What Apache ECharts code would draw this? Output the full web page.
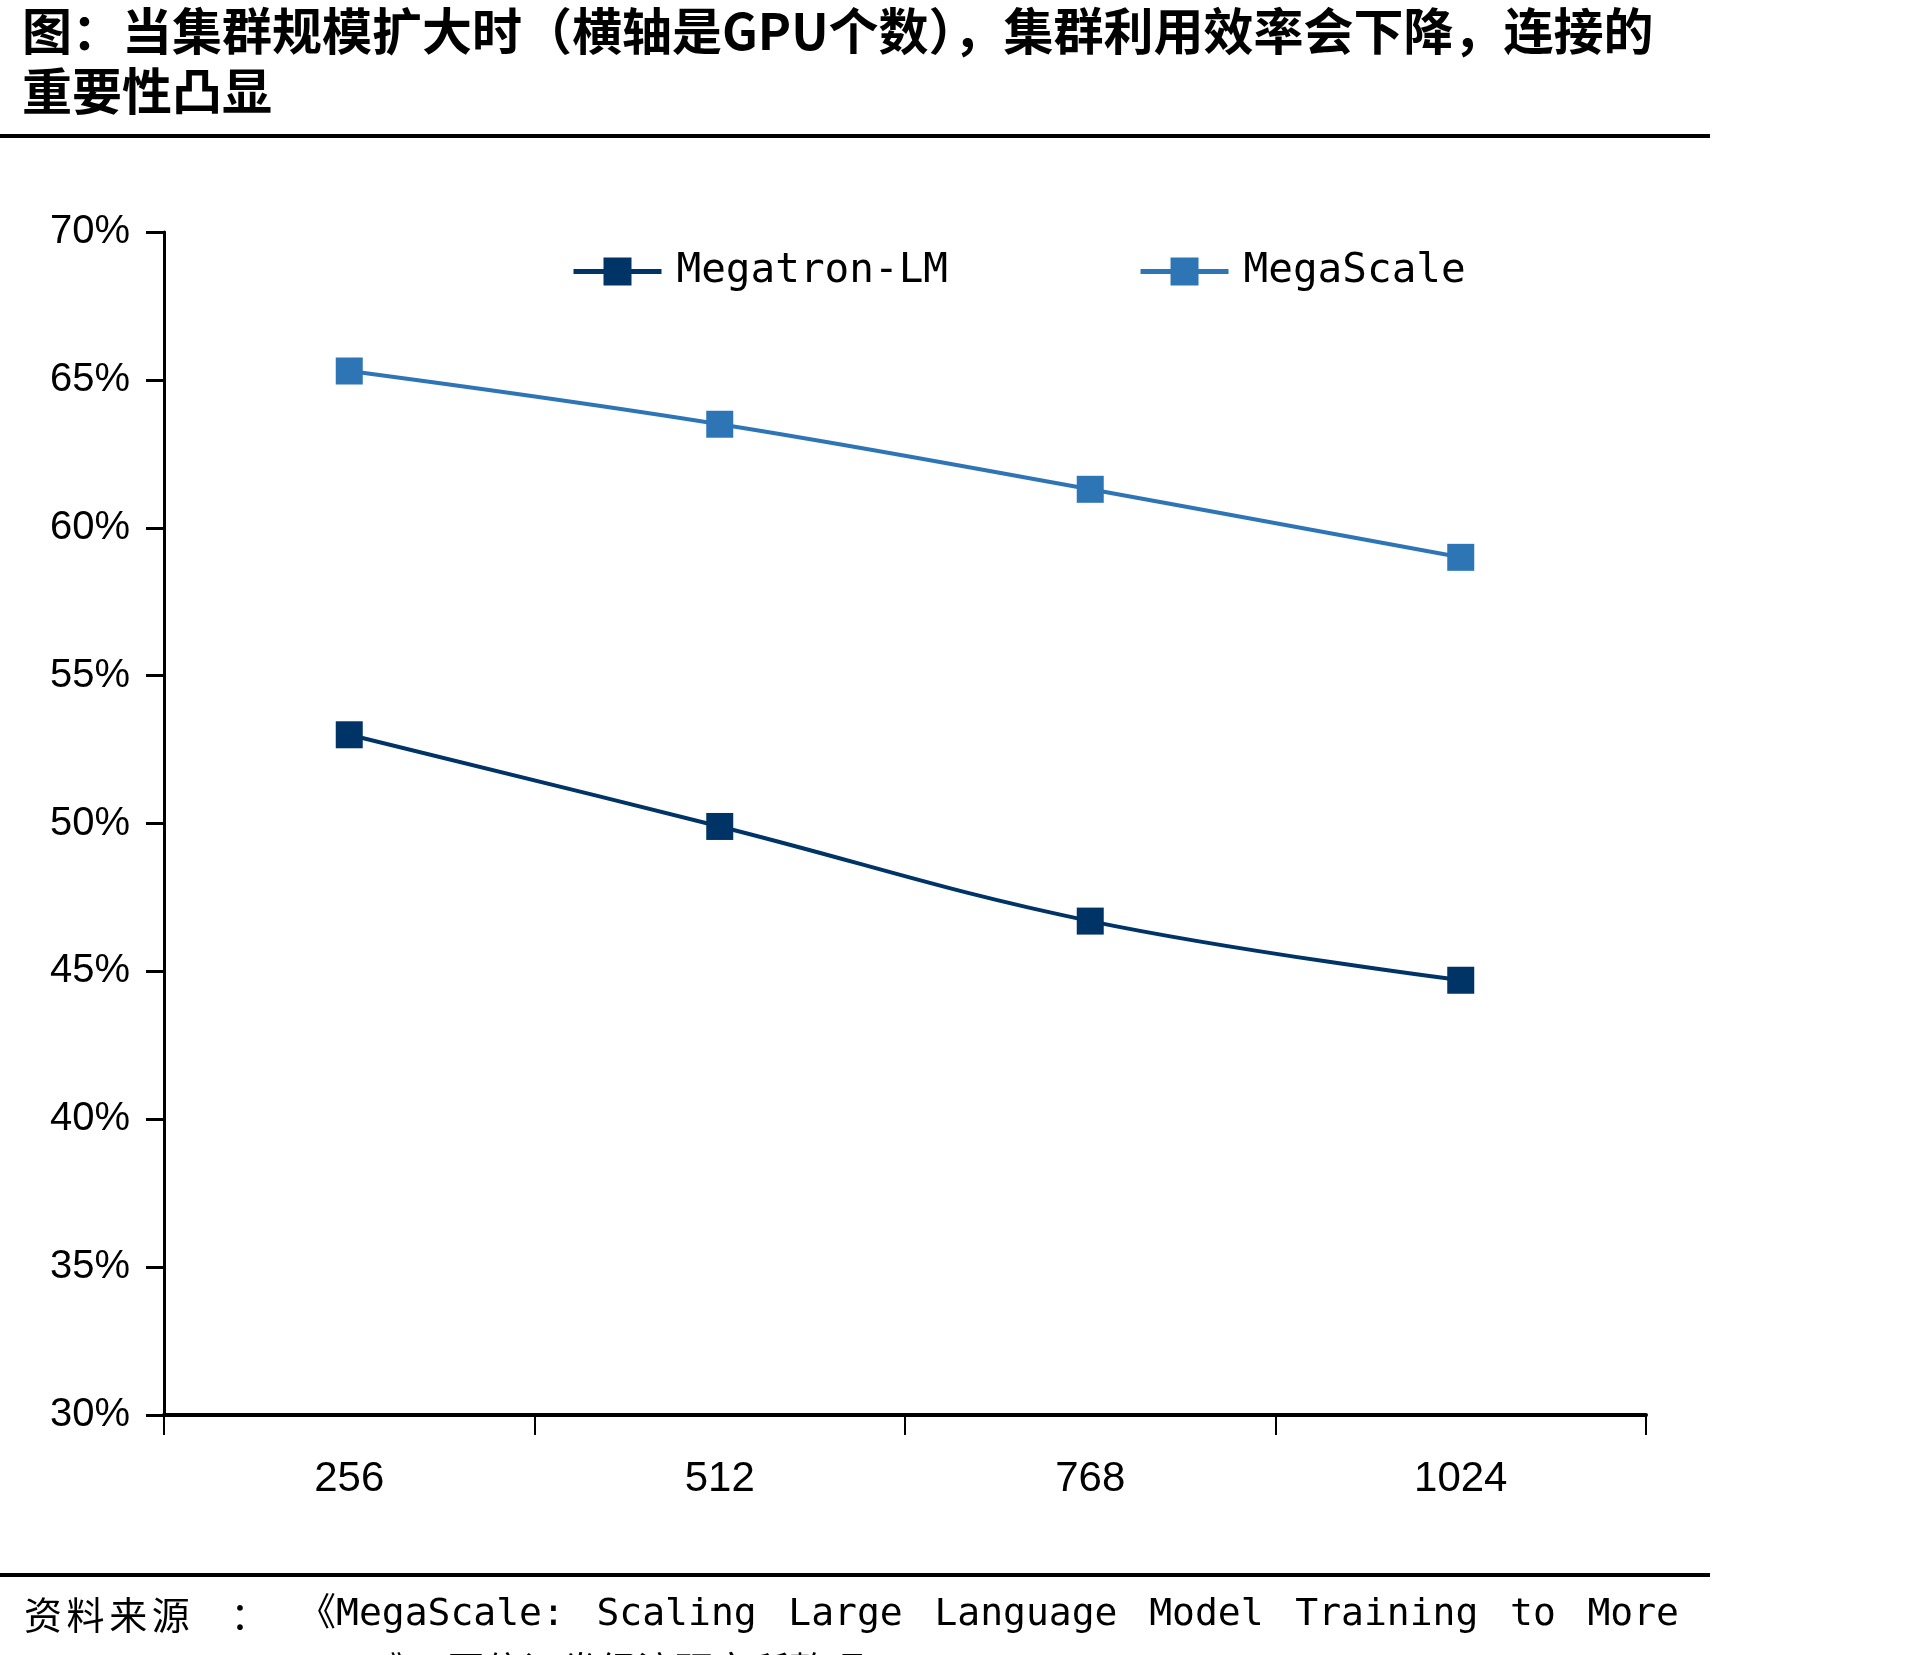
<!DOCTYPE html>
<html>
<head>
<meta charset="utf-8">
<script src="https://cdn.jsdelivr.net/npm/echarts@6/dist/echarts.min.js"></script>
<style>
html,body{margin:0;padding:0;background:#fff;}
#chart{width:1908px;height:1655px;}
</style>
</head>
<body>
<div id="chart"></div>
<script>
const titleLine1 = '图：当集群规模扩大时（横轴是GPU个数），集群利用效率会下降，连接的';
const titleLine2 = '重要性凸显';
const sourceLead = ['资', '料', '来', '源', '：'];
const sourceWords1 = ['《MegaScale:', 'Scaling', 'Large', 'Language', 'Model', 'Training', 'to', 'More'];
const sourceLine2 = 'Than 10,000 GPUs》，国信证券经济研究所整理';

const categories = ['256', '512', '768', '1024'];
const seriesNames = ['Megatron-LM', 'MegaScale'];
const megatronLM = [53.0, 49.9, 46.7, 44.7];
const megaScale = [65.3, 63.5, 61.3, 59.0];
const yMin = 30, yMax = 70, yStep = 5;

const colorDark = '#003366';
const colorLight = '#2E75B6';
const mono = '"DejaVu Sans Mono", "Liberation Mono", "Noto Sans CJK SC", monospace';
const cjk = '"Noto Sans CJK SC", "Noto Sans", sans-serif';
const num = '"Liberation Sans", Arial, sans-serif';

// text layout helpers (justified source line)
const ctx = document.createElement('canvas').getContext('2d');
function measure(t, font) { ctx.font = font; return ctx.measureText(t).width; }
function justify(words, x0, x1, top, font) {
  const widths = words.map(w => measure(w, font));
  const total = widths.reduce((a, b) => a + b, 0);
  const gap = (x1 - x0 - total) / (words.length - 1);
  const out = [];
  let x = x0;
  words.forEach((w, i) => {
    out.push({type: 'text', x: x, y: top, style: {text: w, font: font, fill: '#000'}});
    x += widths[i] + gap;
  });
  return out;
}
const srcFont = '38px ' + mono;
const leadFont = '38px ' + cjk;
const graphics = [
  {type: 'text', x: 22, y: 6, style: {text: titleLine1, font: 'bold 50px ' + cjk, fill: '#000'}},
  {type: 'text', x: 22, y: 66, style: {text: titleLine2, font: 'bold 50px ' + cjk, fill: '#000'}},
  {type: 'rect', shape: {x: 0, y: 134, width: 1710, height: 4}, style: {fill: '#000'}},
  {type: 'rect', shape: {x: 0, y: 1573, width: 1710, height: 4}, style: {fill: '#000'}}
];
sourceLead.forEach((c, i) => {
  graphics.push({type: 'text', x: 24 + i * 42.6 + (i === 4 ? 36 : 0), y: 1596, style: {text: c, font: leadFont, fill: '#000'}});
});
justify(sourceWords1, 298, 1679, 1596, srcFont).forEach(g => graphics.push(g));
graphics.push({type: 'text', x: 24, y: 1655, style: {text: sourceLine2, font: srcFont, fill: '#000'}});

const chart = echarts.init(document.getElementById('chart'), null, {renderer: 'canvas'});
chart.setOption({
  backgroundColor: '#ffffff',
  animation: false,
  graphic: graphics,
  legend: {
    data: seriesNames,
    left: 571,
    top: 251,
    padding: 0,
    itemWidth: 88,
    itemHeight: 35,
    itemGap: 190,
    lineStyle: {width: 5},
    textStyle: {fontFamily: mono, fontSize: 41, color: '#000', padding: [0, 0, 0, 10]}
  },
  grid: {left: 164, right: 262, top: 232, bottom: 240, containLabel: false},
  xAxis: {
    type: 'category',
    data: categories,
    boundaryGap: true,
    axisLine: {lineStyle: {color: '#000', width: 4}},
    axisTick: {show: true, alignWithLabel: false, length: 20, lineStyle: {color: '#000', width: 2}},
    axisLabel: {fontFamily: num, fontSize: 42, color: '#000', margin: 43},
    splitLine: {show: false}
  },
  yAxis: {
    type: 'value',
    min: yMin,
    max: yMax,
    interval: yStep,
    axisLine: {show: true, lineStyle: {color: '#000', width: 3}},
    axisTick: {show: true, length: 18, lineStyle: {color: '#000', width: 3}},
    axisLabel: {fontFamily: num, fontSize: 40, color: '#000', margin: 34, formatter: '{value}%'},
    splitLine: {show: false}
  },
  series: [
    {
      name: seriesNames[0], type: 'line', data: megatronLM, smooth: 0.4,
      symbol: 'rect', symbolSize: 27,
      lineStyle: {color: colorDark, width: 4},
      itemStyle: {color: colorDark}
    },
    {
      name: seriesNames[1], type: 'line', data: megaScale, smooth: 0.4,
      symbol: 'rect', symbolSize: 27,
      lineStyle: {color: colorLight, width: 4},
      itemStyle: {color: colorLight}
    }
  ]
});
</script>
</body>
</html>
